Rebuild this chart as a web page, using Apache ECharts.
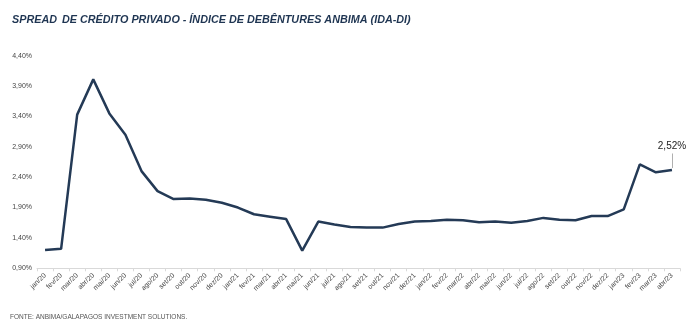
<!DOCTYPE html>
<html><head><meta charset="utf-8">
<script src="https://cdn.jsdelivr.net/npm/echarts@6/dist/echarts.min.js"></script>
<style>html,body{margin:0;padding:0;background:#fff}#c{width:700px;height:330px}</style>
</head><body><div id="c"></div>
<script>
const months = ['jan/20','fev/20','mar/20','abr/20','mai/20','jun/20','jul/20','ago/20','set/20','out/20','nov/20','dez/20',
'jan/21','fev/21','mar/21','abr/21','mai/21','jun/21','jul/21','ago/21','set/21','out/21','nov/21','dez/21',
'jan/22','fev/22','mar/22','abr/22','mai/22','jun/22','jul/22','ago/22','set/22','out/22','nov/22','dez/22',
'jan/23','fev/23','mar/23','abr/23'];
const spread = [1.20,1.22,3.43,4.01,3.45,3.10,2.50,2.17,2.04,2.05,2.03,1.98,
1.90,1.79,1.75,1.71,1.19,1.67,1.62,1.58,1.57,1.57,1.63,1.67,
1.68,1.70,1.69,1.66,1.67,1.65,1.68,1.73,1.70,1.69,1.76,1.76,
1.87,2.61,2.48,2.52];
const yTicks = {min:0.9, max:4.4, interval:0.5};
const fmt = v => v.toFixed(2).replace('.', ',') + '%';
const lastIdx = spread.length - 1;
const lastVal = spread[lastIdx];

const chart = echarts.init(document.getElementById('c'));
chart.setOption({
  animation:false,
  title:[{
    left:7, top:6,
    text:'{b|SPREAD} {n|DE CRÉDITO PRIVADO - ÍNDICE DE DEBÊNTURES ANBIMA (IDA-DI)}',
    textStyle:{rich:{
      b:{fontFamily:'Liberation Sans',fontSize:10.8,fontWeight:'bold',fontStyle:'italic',color:'#1f3552'},
      n:{fontFamily:'Liberation Sans',fontSize:10.8,fontStyle:'italic',color:'#1f3552'}
    }}
  },{
    left:5, top:309,
    text:'FONTE: ANBIMA/GALAPAGOS INVESTMENT SOLUTIONS.',
    textStyle:{fontFamily:'Liberation Sans Narrow, Liberation Sans',fontSize:6.5,fontWeight:'normal',color:'#555'}
  }],
  grid:{left:37, right:20, top:55.7, bottom:61.7, containLabel:false},
  xAxis:{
    type:'category', data:months, boundaryGap:true,
    axisLine:{lineStyle:{color:'#d9d9d9'}},
    axisTick:{show:true, lineStyle:{color:'#d9d9d9'}, length:3},
    axisLabel:{rotate:45, fontSize:7, color:'#444', fontFamily:'Liberation Sans', interval:0, margin:6}
  },
  yAxis:{
    type:'value', min:yTicks.min, max:yTicks.max, interval:yTicks.interval,
    splitLine:{show:false}, axisLine:{show:false}, axisTick:{show:false},
    axisLabel:{formatter: fmt, fontSize:7, color:'#444', fontFamily:'Liberation Sans', margin:5}
  },
  series:[{
    type:'line', data:spread, symbol:'none',
    lineStyle:{color:'#243a56', width:2.5},
    markLine:{
      silent:true, symbol:'none',
      label:{show:true, position:'end', distance:2, formatter: () => fmt(lastVal), color:'#222', fontSize:10, fontFamily:'Liberation Sans'},
      lineStyle:{color:'#b0b0b0', width:1, type:'solid'},
      data:[[{coord:[lastIdx, lastVal + 0.03]},
             {coord:[lastIdx, lastVal + 0.27]}]]
    }
  }]
});
</script></body></html>
